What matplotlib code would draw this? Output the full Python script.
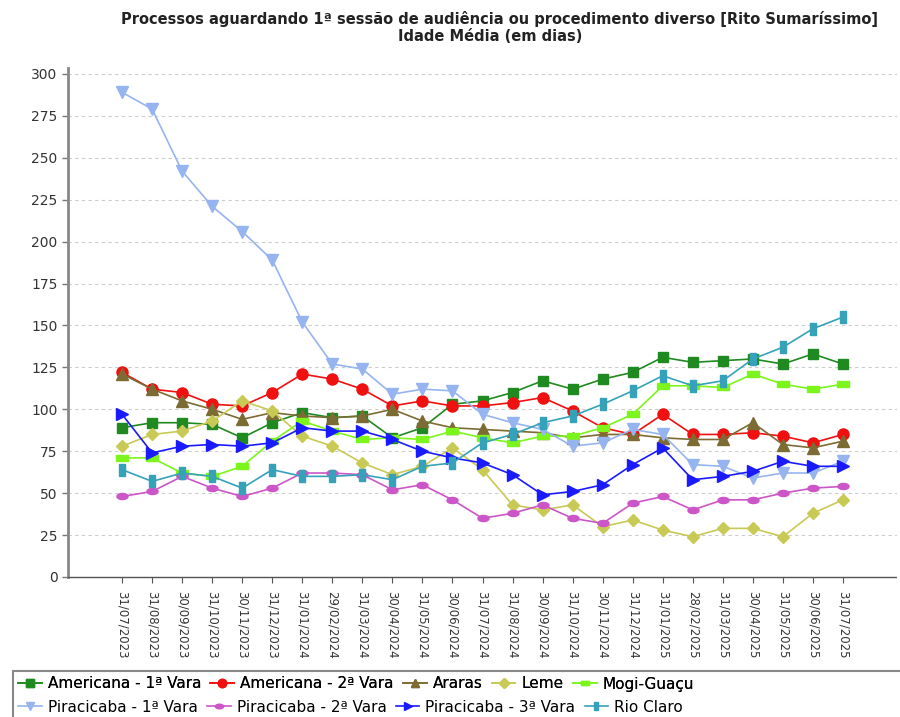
import matplotlib

matplotlib.use("Agg")
import matplotlib.pyplot as plt
import numpy as np
from matplotlib.patches import Rectangle

dates = ["31/07/2023", "31/08/2023", "30/09/2023", "31/10/2023", "30/11/2023",
         "31/12/2023", "31/01/2024", "29/02/2024", "31/03/2024", "30/04/2024",
         "31/05/2024", "30/06/2024", "31/07/2024", "31/08/2024", "30/09/2024",
         "31/10/2024", "30/11/2024", "31/12/2024", "31/01/2025", "28/02/2025",
         "31/03/2025", "30/04/2025", "31/05/2025", "30/06/2025", "31/07/2025"]

americana_1 = [89, 92, 92, 91, 83, 92, 98, 95, 96, 83, 89, 103, 105, 110, 117,
               112, 118, 122, 131, 128, 129, 130, 127, 133, 127]
americana_2 = [122, 112, 110, 103, 102, 110, 121, 118, 112, 102, 105, 102, 102, 104, 107,
               99, 89, 85, 97, 85, 85, 86, 84, 80, 85]
araras = [121, 112, 105, 100, 94, 98, 96, 95, 96, 100, 93, 89, 88, 87, 86,
          83, 85, 85, 83, 82, 82, 92, 79, 77, 81]
leme = [78, 85, 87, 93, 105, 99, 84, 78, 68, 61, 66, 77, 64, 43, 40,
        43, 30, 34, 28, 24, 29, 29, 24, 38, 46]
mogi_guacu = [71, 71, 62, 60, 66, 81, 93, 87, 82, 83, 82, 87, 83, 80, 84,
              84, 89, 97, 114, 114, 113, 121, 115, 112, 115]
piracicaba_1 = [289, 279, 242, 221, 206, 189, 152, 127, 124, 109, 112, 111, 97, 92, 88,
                78, 80, 88, 85, 67, 66, 59, 62, 62, 69]
piracicaba_2 = [48, 51, 60, 53, 48, 53, 62, 62, 61, 52, 55, 46, 35, 38, 43,
                35, 32, 44, 48, 40, 46, 46, 50, 53, 54]
piracicaba_3 = [97, 74, 78, 79, 78, 80, 89, 87, 87, 82, 75, 71, 68, 61, 49,
                51, 55, 67, 77, 58, 60, 63, 69, 66, 66]
rio_claro = [64, 57, 62, 60, 53, 64, 60, 60, 61, 58, 66, 68, 80, 85, 92,
             96, 103, 111, 120, 114, 117, 130, 137, 148, 155]

yticks = [0, 25, 50, 75, 100, 125, 150, 175, 200, 225, 250, 275, 300]

# marker shapes
hrect = [(-1, -0.5), (1, -0.5), (1, 0.5), (-1, 0.5), (-1, -0.5)]
vrect = [(-0.5, -1), (0.5, -1), (0.5, 1), (-0.5, 1), (-0.5, -1)]
t = np.linspace(0, 2 * np.pi, 40)
ellipse = list(zip(np.cos(t), 0.55 * np.sin(t)))

series = [
    ("Americana - 1ª Vara", americana_1, "#1f8a1f", "s", 7.5),
    ("Americana - 2ª Vara", americana_2, "#f01010", "o", 8),
    ("Araras", araras, "#7d6b34", "^", 8),
    ("Leme", leme, "#c9c955", "D", 6.5),
    ("Mogi-Guaçu", mogi_guacu, "#7cf51c", hrect, 8),
    ("Piracicaba - 1ª Vara", piracicaba_1, "#96b4ef", "v", 8),
    ("Piracicaba - 2ª Vara", piracicaba_2, "#cc55c8", ellipse, 8),
    ("Piracicaba - 3ª Vara", piracicaba_3, "#1a1aff", ">", 8),
    ("Rio Claro", rio_claro, "#35a2ba", vrect, 8),
]

fig = plt.figure(figsize=(9, 7.17), dpi=100)
ax = fig.add_axes([68 / 900, 1 - 577 / 717, (897 - 68) / 900, (577 - 68) / 717])

x = np.arange(len(dates))
handles = []
for label, vals, color, marker, ms in series:
    (ln,) = ax.plot(x, vals, color=color, lw=1.2, marker=marker, ms=ms,
                    mec=color, mfc=color, label=label)
    handles.append(ln)

ax.set_xlim(-1.8, 25.8)
ax.set_ylim(0, 303.5)
ax.set_yticks(yticks)
ax.set_xticks(x)
ax.set_xticklabels(dates, rotation=-90, fontsize=8.5, color="#333333")
ax.tick_params(axis="y", labelsize=10, colors="#333333", length=4, width=1,
               color="#777777")
ax.tick_params(axis="x", length=4, width=0.8, color="#555555", pad=6)
ax.grid(axis="y", color="#cccccc", linestyle=(0, (3, 3)), lw=0.8)
ax.set_axisbelow(True)
for s in ("top", "right"):
    ax.spines[s].set_visible(False)
ax.spines["left"].set_color("#888888")
ax.spines["left"].set_linewidth(2)
ax.spines["bottom"].set_color("#555555")
ax.spines["bottom"].set_linestyle((0, (2, 1)))
ax.spines["bottom"].set_linewidth(1)

fig.text(0.555, 0.985, "Processos aguardando 1ª sessão de audiência ou procedimento diverso [Rito Sumaríssimo]",
         ha="center", va="top", fontsize=10.5, fontweight="bold", color="#222222")
fig.text(0.545, 0.96, "Idade Média (em dias)", ha="center", va="top",
         fontsize=10.5, fontweight="bold", color="#222222")

# legend: box plus two rows of entries
fig.patches.append(Rectangle((13 / 900, -0.01), 0.99, (717 - 671) / 717 + 0.01,
                             transform=fig.transFigure, fill=False,
                             edgecolor="#888888", lw=1.5))
leg_kw = dict(frameon=False, fontsize=11, handlelength=1.55, handletextpad=0.4,
              columnspacing=0.6, borderaxespad=0, borderpad=0, markerscale=0.75)
leg1 = fig.legend(handles=handles[:5], loc="center left", ncol=5,
                  bbox_to_anchor=(18 / 900, 1 - 684 / 717), **leg_kw)
fig.add_artist(leg1)
fig.legend(handles=handles[5:], loc="center left", ncol=4,
           bbox_to_anchor=(18 / 900, 1 - 707 / 717), **leg_kw)

fig.savefig("out.png", dpi=100, facecolor="white")
